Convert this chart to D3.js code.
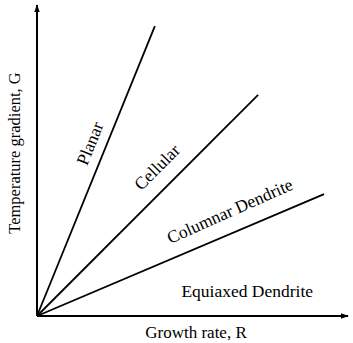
<!DOCTYPE html>
<html>
<head>
<meta charset="utf-8">
<script src="https://cdn.jsdelivr.net/npm/d3@7"></script>
<style>
  body { margin: 0; background: #fff; }
  text { font-family: "Liberation Serif", "Times New Roman", serif; fill: #000; }
</style>
</head>
<body>
<div id="chart"></div>
<script>
// boundary lines from the origin, end point in (R, G) units
const boundaries = ["Planar/Cellular", "Cellular/Columnar", "Columnar/Equiaxed"];
const endR = [0.379, 0.711, 0.923];
const endG = [0.932, 0.711, 0.392];

// region labels
const regionNames = ["Planar", "Cellular", "Columnar Dendrite", "Equiaxed Dendrite"];
const labelR = [0.17, 0.386, 0.62, 0.676];
const labelG = [0.555, 0.479, 0.338, 0.079];
const labelAngle = [-68, -45, -24, 0];

const xTitle = "Growth rate, R";
const yTitle = "Temperature gradient, G";

const fullWidth = 353,
  fullHeight = 343;
const margin = { top: 5, right: 5, bottom: 27, left: 37 };

const svg = d3
  .select("#chart")
  .append("svg")
  .attr("width", fullWidth)
  .attr("height", fullHeight);

const x = d3.scaleLinear().domain([0, 1]).range([margin.left, fullWidth - margin.right]);
const y = d3.scaleLinear().domain([0, 1]).range([fullHeight - margin.bottom, margin.top]);

// arrow head
svg
  .append("defs")
  .append("marker")
  .attr("id", "arrow")
  .attr("viewBox", "0 0 10 10")
  .attr("refX", 9)
  .attr("refY", 5)
  .attr("markerWidth", 4)
  .attr("markerHeight", 4)
  .attr("orient", "auto")
  .append("path")
  .attr("d", "M0,1.5L10,5L0,8.5Z")
  .attr("fill", "#000");

// axes as plain arrows
svg
  .append("line")
  .attr("x1", x(0))
  .attr("y1", y(0))
  .attr("x2", x(0))
  .attr("y2", y(1))
  .attr("stroke", "#000")
  .attr("stroke-width", 2)
  .attr("marker-end", "url(#arrow)");

svg
  .append("line")
  .attr("x1", x(0))
  .attr("y1", y(0))
  .attr("x2", x(1))
  .attr("y2", y(0))
  .attr("stroke", "#000")
  .attr("stroke-width", 2)
  .attr("marker-end", "url(#arrow)");

// boundary lines
svg
  .selectAll("line.boundary")
  .data(boundaries)
  .enter()
  .append("line")
  .attr("class", "boundary")
  .attr("x1", x(0))
  .attr("y1", y(0))
  .attr("x2", (d, i) => x(endR[i]))
  .attr("y2", (d, i) => y(endG[i]))
  .attr("stroke", "#000")
  .attr("stroke-width", 1.8);

// region labels
svg
  .selectAll("text.region")
  .data(regionNames)
  .enter()
  .append("text")
  .attr("class", "region")
  .attr("text-anchor", "middle")
  .attr("dominant-baseline", "central")
  .attr("font-size", 17.5)
  .attr("transform", (d, i) => `translate(${x(labelR[i])},${y(labelG[i])}) rotate(${labelAngle[i]})`)
  .text((d) => d);

// axis titles
svg
  .append("text")
  .attr("text-anchor", "middle")
  .attr("font-size", 17)
  .attr("x", 196)
  .attr("y", 338)
  .text(xTitle);

svg
  .append("text")
  .attr("text-anchor", "middle")
  .attr("font-size", 16.5)
  .attr("transform", "rotate(-90)")
  .attr("x", -153)
  .attr("y", 20)
  .text(yTitle);
</script>
</body>
</html>
